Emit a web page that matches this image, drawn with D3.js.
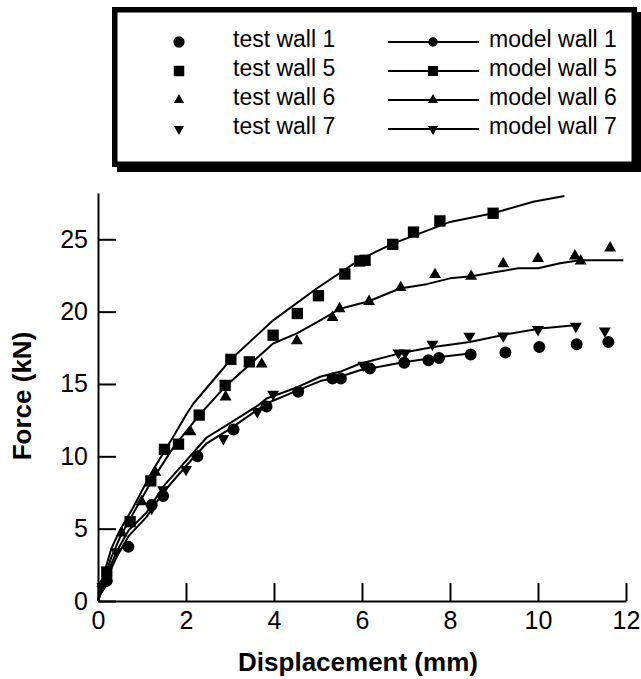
<!DOCTYPE html>
<html>
<head>
<meta charset="utf-8">
<script src="https://cdn.jsdelivr.net/npm/d3@7"></script>
<style>
  body { margin: 0; background: #fff; }
  svg { font-family: "Liberation Sans", Arial, sans-serif; }
</style>
</head>
<body>
<div id="chart"></div>
<script>

// values: [displacement (mm), force (kN)]
var testWall1 = [[0.2, 1.4], [0.69, 3.75], [1.22, 6.63], [1.48, 7.25], [2.26, 10.0], [3.08, 11.86],
    [3.83, 13.45], [4.55, 14.46], [5.33, 15.38], [5.52, 15.38], [6.18, 16.07], [6.96, 16.46],
    [7.51, 16.64], [7.75, 16.8], [8.47, 17.03], [9.26, 17.17], [10.03, 17.56], [10.88, 17.75], [11.6, 17.9]];

var testWall5 = [[0.2, 2.0], [0.73, 5.48], [1.2, 8.3], [1.51, 10.48], [1.83, 10.84], [2.3, 12.85],
    [2.89, 14.9], [3.02, 16.7], [3.44, 16.53], [3.98, 18.37], [4.53, 19.87], [5.01, 21.1],
    [5.61, 22.6], [5.95, 23.5], [6.07, 23.55], [6.7, 24.65], [7.17, 25.5], [7.77, 26.27], [8.98, 26.8]];

var testWall6 = [[0.1, 1.2], [0.54, 4.7], [0.99, 6.86], [1.3, 8.9], [2.1, 11.7], [2.9, 14.1],
    [3.72, 16.37], [4.52, 17.98], [5.33, 19.6], [5.49, 20.2], [6.16, 20.7], [6.88, 21.66],
    [7.66, 22.56], [8.48, 22.44], [9.21, 23.3], [10.0, 23.67], [10.84, 23.85], [10.97, 23.5], [11.64, 24.4]];

var testWall7 = [[0.1, 1.0], [0.42, 3.4], [1.22, 6.4], [1.48, 7.7], [2.0, 9.1], [2.85, 11.23],
    [3.62, 13.1], [3.98, 14.3], [6.03, 16.3], [6.83, 17.15], [6.98, 17.15], [7.6, 17.75],
    [8.44, 18.3], [9.21, 18.32], [10.0, 18.76], [10.86, 18.99], [11.52, 18.67]];

var modelWall1 = [[0, 0], [0.2, 1.6], [0.45, 3.2], [0.7, 4.5], [1.1, 5.8], [1.48, 7.5], [2.02, 9.4],
    [2.47, 10.9], [3.0, 11.9], [3.83, 13.65], [4.55, 14.57], [5.05, 15.2], [5.5, 15.5],
    [5.95, 15.95], [6.18, 16.07], [6.94, 16.5], [7.77, 16.87], [8.45, 17.1]];

var modelWall5 = [[0, 0], [0.1, 1.5], [0.3, 3.6], [0.5, 4.9], [0.77, 6.3], [1.22, 8.9], [1.71, 11.35],
    [2.02, 12.96], [2.17, 13.65], [2.81, 15.95], [3.02, 16.7], [3.98, 19.4], [4.97, 21.6],
    [5.95, 23.6], [6.7, 24.7], [8.0, 26.2], [8.98, 26.8], [9.89, 27.6], [10.6, 28.0]];

var modelWall6 = [[0, 0], [0.1, 1.2], [0.3, 3.0], [0.5, 4.4], [0.77, 5.9], [1.22, 8.3], [1.71, 10.6],
    [2.3, 12.85], [2.9, 14.85], [3.98, 17.8], [4.52, 18.5], [5.05, 19.4], [5.5, 20.2],
    [6.14, 20.7], [6.86, 21.6], [7.47, 21.9], [8.0, 22.3], [8.49, 22.45], [8.98, 22.7],
    [9.55, 23.0], [10.0, 23.0], [10.5, 23.35], [10.95, 23.55], [11.94, 23.55]];

var modelWall7 = [[0, 0], [0.2, 1.8], [0.42, 3.4], [0.7, 4.9], [1.1, 6.1], [1.48, 7.9], [2.02, 9.75],
    [2.47, 11.3], [3.0, 12.3], [3.63, 13.5], [3.83, 14.0], [4.52, 14.76], [5.05, 15.5],
    [5.5, 15.84], [5.95, 16.4], [6.83, 17.1], [7.62, 17.56], [8.45, 17.9], [9.29, 18.44],
    [10.05, 18.83], [10.84, 19.06]];

var xTicks = [0, 2, 4, 6, 8, 10, 12];
var yTicks = [0, 5, 10, 15, 20, 25];

var legendTest = ["test wall 1", "test wall 5", "test wall 6", "test wall 7"];
var legendModel = ["model wall 1", "model wall 5", "model wall 6", "model wall 7"];

// marker shape per wall
var shapes = [
    { type: d3.symbolCircle, rot: 0, size: 113, legSize: 100, lineSize: 70 },
    { type: d3.symbolSquare, rot: 0, size: 128, legSize: 110, lineSize: 100 },
    { type: d3.symbolTriangle, rot: 0, size: 62, legSize: 45, lineSize: 45 },
    { type: d3.symbolTriangle, rot: 180, size: 62, legSize: 45, lineSize: 45 }
];

var tests = [testWall1, testWall5, testWall6, testWall7];
var models = [modelWall1, modelWall5, modelWall6, modelWall7];

var width = 641, height = 679;

var svg = d3.select("#chart")
    .append("svg")
    .attr("width", width)
    .attr("height", height);

var x = d3.scaleLinear().domain([0, 12]).range([98, 626]);
var y = d3.scaleLinear().domain([0, 28.2]).range([601, 193]);

// axes, ticks point inwards
var xAxis = svg.append("g")
    .attr("transform", "translate(0," + y(0) + ")")
    .call(d3.axisBottom(x).tickValues(xTicks).tickSizeInner(-18).tickSizeOuter(0).tickPadding(10));

var yAxis = svg.append("g")
    .attr("transform", "translate(" + x(0) + ",0)")
    .call(d3.axisLeft(y).tickValues(yTicks).tickSizeInner(-18).tickSizeOuter(0).tickPadding(10));

[xAxis, yAxis].forEach(function (g) {
    g.selectAll("path, line").attr("stroke", "#000").attr("stroke-width", 2);
    g.selectAll("text")
        .attr("fill", "#000")
        .style("font-size", "25px")
        .style("font-family", "'Liberation Sans', Arial, sans-serif");
});

// axis labels
svg.append("text")
    .attr("x", 358)
    .attr("y", 671)
    .attr("text-anchor", "middle")
    .style("font-size", "26px")
    .style("font-weight", "bold")
    .text("Displacement (mm)");

svg.append("text")
    .attr("transform", "translate(31,396) rotate(-90)")
    .attr("text-anchor", "middle")
    .style("font-size", "26px")
    .style("font-weight", "bold")
    .text("Force (kN)");

// model lines
var line = d3.line()
    .x(function (d) { return x(d[0]) })
    .y(function (d) { return y(d[1]) });

svg.append("g")
    .selectAll("path")
    .data(models)
    .join("path")
    .attr("d", line)
    .attr("fill", "none")
    .attr("stroke", "#000")
    .attr("stroke-width", 2)
    .attr("stroke-linejoin", "round");

// test points
tests.forEach(function (pts, i) {
    var s = shapes[i];
    svg.append("g")
        .selectAll("path")
        .data(pts)
        .join("path")
        .attr("d", d3.symbol().type(s.type).size(s.size))
        .attr("transform", function (d) {
            return "translate(" + x(d[0]) + "," + y(d[1]) + ") rotate(" + s.rot + ")";
        })
        .attr("fill", "#000");
});

// legend box with drop shadow
var legend = svg.append("g");

legend.append("rect")
    .attr("x", 117).attr("y", 12)
    .attr("width", 525).attr("height", 160)
    .attr("fill", "#000");

legend.append("rect")
    .attr("x", 114.75).attr("y", 9.75)
    .attr("width", 519.5).attr("height", 154.5)
    .attr("fill", "#fff")
    .attr("stroke", "#000")
    .attr("stroke-width", 5.5);

legendTest.forEach(function (label, i) {
    var s = shapes[i];
    var ly = 42 + i * 29;

    legend.append("path")
        .attr("d", d3.symbol().type(s.type).size(s.legSize))
        .attr("transform", "translate(179," + ly + ") rotate(" + s.rot + ")")
        .attr("fill", "#000");

    legend.append("text")
        .attr("x", 233)
        .attr("y", ly + 5)
        .style("font-size", "23px")
        .text(label);

    legend.append("line")
        .attr("x1", 388).attr("x2", 479)
        .attr("y1", ly).attr("y2", ly)
        .attr("stroke", "#000")
        .attr("stroke-width", 2);

    legend.append("path")
        .attr("d", d3.symbol().type(s.type).size(s.lineSize))
        .attr("transform", "translate(433," + ly + ") rotate(" + s.rot + ")")
        .attr("fill", "#000");

    legend.append("text")
        .attr("x", 489)
        .attr("y", ly + 5)
        .style("font-size", "23px")
        .text(legendModel[i]);
});

</script>
</body>
</html>
